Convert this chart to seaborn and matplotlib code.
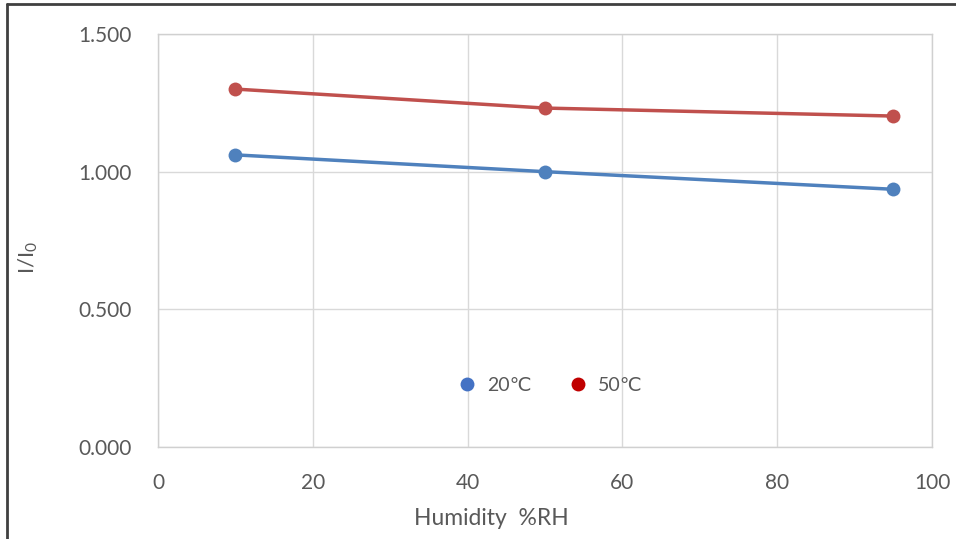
import pandas as pd
import seaborn as sns
import matplotlib.pyplot as plt
from matplotlib.lines import Line2D
from matplotlib.ticker import FormatStrFormatter

humidity = [10, 50, 95]
ratio_20 = [1.061, 1.000, 0.936]
ratio_50 = [1.300, 1.231, 1.202]
series_labels = ['20℃', '50℃']

df = pd.DataFrame({
    'humidity': humidity * 2,
    'ratio': ratio_20 + ratio_50,
    'temp': [series_labels[0]] * 3 + [series_labels[1]] * 3,
})

sns.set_theme(style="white")
plt.rcParams['font.family'] = ['Lato', 'DejaVu Sans']
plt.rcParams['mathtext.fontset'] = 'custom'
plt.rcParams['mathtext.rm'] = 'Lato'

line_colors = ['#4F81BD', '#C0504D']
legend_colors = ['#4472C4', '#C00000']
text_color = '#595959'

fig = plt.figure(figsize=(9.56, 5.39), dpi=100)
ax = fig.add_axes([0.1653, 0.1707, 0.8097, 0.7662])

sns.lineplot(data=df, x='humidity', y='ratio', hue='temp', palette=line_colors,
             marker='o', markersize=10, markeredgewidth=0, linewidth=2.5,
             legend=False, ax=ax)

ax.set_xlim(0, 100)
ax.set_ylim(0, 1.5)
ax.set_xticks(range(0, 101, 20))
ax.set_yticks([0, 0.5, 1.0, 1.5])
ax.yaxis.set_major_formatter(FormatStrFormatter('%.3f'))
ax.grid(True, color='#D9D9D9', linewidth=1)
for s in ax.spines.values():
    s.set_color('#D0D0D0')
    s.set_linewidth(1)
ax.tick_params(axis='both', labelsize=15, colors=text_color, length=0)
ax.tick_params(axis='x', pad=19)
ax.tick_params(axis='y', pad=19)
ax.set_xlabel('Humidity  %RH', fontsize=16.5, color=text_color)
ax.xaxis.set_label_coords(0.431, -0.148)
ax.set_ylabel(r'I/I$_{\mathregular{0}}$', fontsize=16, color=text_color)
ax.yaxis.set_label_coords(-0.153, 0.46)

handles = [Line2D([], [], linestyle='none', marker='o', markersize=10,
                  markerfacecolor=c, markeredgewidth=0) for c in legend_colors]
leg = ax.legend(handles, series_labels, loc='center', bbox_to_anchor=(0.5, 0.15),
                ncol=2, frameon=False, fontsize=14, handletextpad=0.0,
                columnspacing=1.4)
for t in leg.get_texts():
    t.set_color(text_color)

# chart border (top and left visible)
fig.add_artist(Line2D([0.0073, 1.0], [0.9926, 0.9926], color='#404040', linewidth=2, transform=fig.transFigure))
fig.add_artist(Line2D([0.0073, 0.0073], [0.0, 0.9926], color='#404040', linewidth=2, transform=fig.transFigure))

fig.savefig('out.png', dpi=100)
